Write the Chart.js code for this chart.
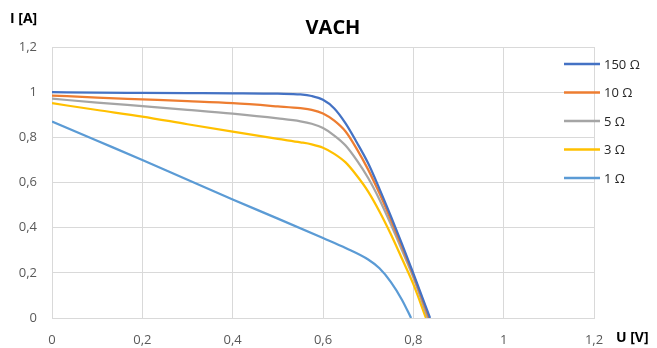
<!DOCTYPE html>
<html>
<head>
<meta charset="utf-8">
<script src="https://cdn.jsdelivr.net/npm/chart.js@4"></script>
<style>
  html, body { margin: 0; padding: 0; background: #fff; }
  #wrap { width: 657px; height: 348px; }
</style>
</head>
<body>
<div id="wrap"><canvas id="grafico" width="657" height="348"></canvas></div>
<script>
// === Datos ===
const seriesNames = ['150 Ω', '10 Ω', '5 Ω', '3 Ω', '1 Ω'];
const seriesColors = ['#4472C4', '#ED7D31', '#A5A5A5', '#FFC000', '#5B9BD5'];

const u150 = [0, 0.1, 0.2, 0.3, 0.4, 0.5, 0.55, 0.575, 0.6, 0.625, 0.65, 0.675, 0.7, 0.725, 0.75, 0.775, 0.8, 0.837];
const i150 = [1.0, 0.998, 0.997, 0.996, 0.995, 0.993, 0.99, 0.983, 0.966, 0.928, 0.862, 0.777, 0.685, 0.572, 0.452, 0.327, 0.197, 0];

const u10 = [0, 0.1, 0.2, 0.3, 0.4, 0.5, 0.55, 0.575, 0.6, 0.625, 0.65, 0.675, 0.7, 0.725, 0.75, 0.775, 0.8, 0.835];
const i10 = [0.985, 0.976, 0.968, 0.96, 0.951, 0.937, 0.929, 0.922, 0.906, 0.874, 0.826, 0.748, 0.657, 0.552, 0.437, 0.316, 0.19, 0];

const u5 = [0, 0.1, 0.2, 0.3, 0.4, 0.5, 0.55, 0.575, 0.6, 0.625, 0.65, 0.675, 0.7, 0.725, 0.75, 0.775, 0.8, 0.832];
const i5 = [0.971, 0.954, 0.938, 0.922, 0.905, 0.884, 0.871, 0.86, 0.841, 0.808, 0.764, 0.698, 0.62, 0.525, 0.416, 0.3, 0.18, 0];

const u3 = [0, 0.1, 0.2, 0.3, 0.4, 0.5, 0.55, 0.575, 0.6, 0.625, 0.65, 0.675, 0.7, 0.725, 0.75, 0.775, 0.8, 0.828];
const i3 = [0.951, 0.921, 0.892, 0.858, 0.825, 0.793, 0.778, 0.769, 0.754, 0.727, 0.689, 0.63, 0.56, 0.472, 0.372, 0.262, 0.15, 0];

const u1 = [0, 0.1, 0.2, 0.3, 0.4, 0.5, 0.6, 0.65, 0.7, 0.725, 0.75, 0.775, 0.795];
const i1 = [0.87, 0.785, 0.70, 0.612, 0.525, 0.44, 0.354, 0.31, 0.259, 0.22, 0.16, 0.08, 0];

const uSeries = [u150, u10, u5, u3, u1];
const iSeries = [i150, i10, i5, i3, i1];

const fmt = v => String(Number(v.toFixed(1))).replace('.', ',');
const fontFam = "'Open Sans', 'Liberation Sans', sans-serif";

// Leyenda, títulos y rótulos de ejes
const extras = {
    id: 'extras',
    afterDraw(chart) {
        const c = chart.ctx;
        c.save();
        c.fillStyle = '#000';
        c.textBaseline = 'middle';
        c.font = 'bold 20px ' + fontFam;
        c.textAlign = 'center';
        c.fillText('VACH', 333, 28);
        c.font = 'bold 14px ' + fontFam;
        c.textAlign = 'left';
        c.fillText('I [A]', 10, 19);
        c.fillText('U [V]', 616, 338);

        c.font = '13px ' + fontFam;
        c.fillStyle = '#262626';
        seriesNames.forEach((name, k) => {
            const y = 64 + k * 28.5;
            c.strokeStyle = seriesColors[k];
            c.lineWidth = 2.5;
            c.beginPath();
            c.moveTo(564, y);
            c.lineTo(600, y);
            c.stroke();
            c.fillText(name, 604, y + 1);
        });
        c.restore();
    }
};

new Chart(document.getElementById('grafico').getContext('2d'), {
    type: 'scatter',
    data: {
        datasets: seriesNames.map((name, k) => ({
            label: name,
            data: uSeries[k].map((u, j) => ({ x: u, y: iSeries[k][j] })),
            showLine: true,
            borderColor: seriesColors[k],
            backgroundColor: seriesColors[k],
            borderWidth: 2.25,
            pointRadius: 0,
            cubicInterpolationMode: 'monotone'
        }))
    },
    options: {
        responsive: false,
        animation: false,
        layout: { padding: { top: 47, right: 63, left: 0, bottom: 0 } },
        plugins: {
            legend: { display: false },
            title: { display: false },
            tooltip: { enabled: false }
        },
        scales: {
            x: {
                type: 'linear',
                min: 0, max: 1.2,
                afterFit: s => { s.height = 30; },
                grid: { color: '#d9d9d9', drawTicks: false },
                border: { color: '#d9d9d9' },
                ticks: {
                    stepSize: 0.2, padding: 14, color: '#595959',
                    font: { size: 13, family: fontFam },
                    callback: v => fmt(v)
                }
            },
            y: {
                min: 0, max: 1.2,
                afterFit: s => { s.width = 52; },
                grid: { color: '#d9d9d9', drawTicks: false },
                border: { color: '#d9d9d9' },
                ticks: {
                    stepSize: 0.2, padding: 15, color: '#595959',
                    font: { size: 13, family: fontFam },
                    callback: v => fmt(v)
                }
            }
        }
    },
    plugins: [extras]
});
</script>
</body>
</html>
